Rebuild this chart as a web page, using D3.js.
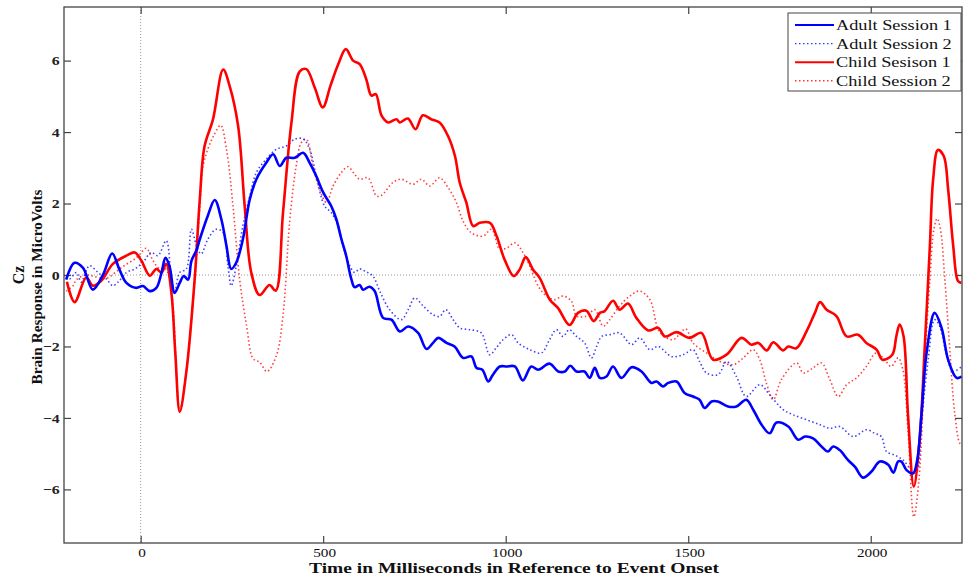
<!DOCTYPE html>
<html><head><meta charset="utf-8">
<script src="https://cdn.jsdelivr.net/npm/d3@7"></script>
<style>body{margin:0;background:#fff}svg{display:block}</style>
</head><body><svg id="c" width="963" height="583"></svg>
<script>
const seriesNames = ["Adult Session 1","Adult Session 2","Child Sesison 1","Child Session 2"];
const seriesColors = ["#0000ff","#0000ff","#ff0000","#ff0000"];
const seriesDotted = [false,true,false,true];
const xTicks = [0,500,1000,1500,2000];
const yTicks = [-6,-4,-2,0,2,4,6];

const adult1T = [-204,-181,-158,-131,-103,-78,-58,-39,-12,6,25,43,57,68,79,93,107,118,130,139,153,162,184,203,221,235,248,262,280,299,317,344,363,381,399,422,445,463,481,500,522,536,550,563,577,586,600,609,627,641,664,687,710,733,760,783,801,815,838,860,883,906,920,936,952,965,984,1002,1025,1047,1070,1089,1120,1144,1162,1177,1194,1216,1230,1244,1258,1276,1294,1317,1345,1372,1399,1413,1431,1445,1468,1490,1513,1531,1545,1564,1581,1609,1632,1659,1678,1701,1723,1742,1774,1801,1820,1842,1865,1883,1897,1915,1938,1957,1979,2002,2025,2048,2062,2075,2084,2098,2116,2127,2139,2153,2175,2194,2212,2235,2249];
const adult1V = [-0.13,0.34,0.2,-0.41,0.01,0.6,0.15,-0.22,-0.36,-0.31,-0.45,-0.36,0.06,0.48,0.25,-0.5,-0.22,-0.03,-0.13,0.39,0.7,1.0,1.66,2.1,1.56,0.82,0.17,0.35,1.0,2.12,2.68,3.14,3.38,3.05,3.28,3.28,3.42,3.14,2.77,2.31,1.93,1.56,1.0,0.54,-0.11,-0.34,-0.28,-0.41,-0.33,-0.45,-1.2,-1.25,-1.58,-1.44,-1.62,-2.07,-1.9,-1.76,-1.9,-2.0,-2.32,-2.28,-2.6,-2.65,-2.98,-2.79,-2.56,-2.56,-2.56,-2.95,-2.56,-2.65,-2.48,-2.7,-2.7,-2.54,-2.7,-2.7,-2.88,-2.6,-2.88,-2.84,-2.56,-2.88,-2.58,-2.7,-3.02,-2.98,-3.12,-3.02,-2.98,-3.3,-3.4,-3.49,-3.72,-3.54,-3.54,-3.68,-3.68,-3.49,-3.77,-4.19,-4.43,-4.13,-4.24,-4.61,-4.52,-4.57,-4.8,-4.94,-4.8,-4.9,-5.18,-5.37,-5.67,-5.5,-5.22,-5.31,-5.53,-5.22,-5.22,-5.46,-5.55,-5.2,-3.9,-2.18,-1.06,-1.48,-2.37,-2.88,-2.84];

const adult2T = [-204,-195,-176,-163,-140,-117,-94,-76,-62,-39,-16,6,29,47,70,84,93,107,125,139,153,166,184,207,226,239,248,262,280,299,317,344,372,399,422,445,463,481,504,522,541,554,573,586,600,614,636,655,682,714,733,751,774,801,819,836,856,874,901,933,956,974,993,1016,1034,1066,1098,1120,1139,1157,1174,1194,1216,1235,1249,1263,1285,1312,1345,1367,1395,1418,1454,1486,1513,1531,1550,1582,1605,1632,1659,1696,1723,1760,1787,1824,1861,1888,1915,1952,1988,2011,2029,2043,2066,2089,2112,2125,2139,2157,2175,2189,2207,2225,2249];
const adult2V = [-0.05,-0.11,0.07,-0.2,0.26,0.07,-0.11,-0.3,-0.2,0.07,0.17,0.35,0.63,0.54,0.96,-0.11,-0.48,0.07,0.17,1.28,0.82,0.59,1.0,1.28,1.19,0.26,-0.3,0.26,1.38,2.21,2.87,3.24,3.52,3.61,3.8,3.81,3.52,2.77,1.93,1.75,1.38,0.82,0.26,0.07,0.17,0.11,-0.03,-0.45,-0.97,-1.25,-0.97,-0.64,-0.87,-1.11,-1.16,-0.97,-1.25,-1.48,-1.53,-1.62,-2.23,-2.04,-1.81,-1.67,-1.9,-2.09,-2.18,-1.81,-1.53,-1.72,-1.53,-1.72,-1.9,-2.32,-2.0,-1.72,-1.67,-1.62,-1.95,-1.76,-2.09,-2.0,-2.28,-2.23,-2.09,-2.42,-2.74,-2.79,-2.42,-2.84,-3.4,-3.07,-3.35,-3.77,-3.91,-4.05,-4.19,-4.29,-4.24,-4.52,-4.33,-4.43,-4.52,-4.94,-5.04,-5.18,-5.46,-5.5,-4.1,-2.4,-1.25,-1.44,-2.2,-2.7,-2.56];

const child1T = [-202,-181,-149,-131,-108,-76,-39,-16,2,25,43,57,70,84,95,107,125,148,162,175,198,226,244,267,285,303,326,353,370,390,413,436,454,477,499,520,541,562,582,600,618,632,644,660,678,701,710,732,753,773,796,819,842,861,874,892,911,929,957,975,997,1022,1038,1055,1075,1093,1121,1143,1175,1198,1221,1241,1258,1271,1294,1312,1335,1358,1390,1418,1436,1468,1504,1536,1568,1605,1646,1673,1692,1715,1733,1760,1774,1796,1824,1847,1861,1879,1906,1934,1965,1988,2016,2032,2059,2070,2079,2090,2102,2118,2134,2148,2162,2171,2184,2200,2212,2226,2239,2248];
const child1V = [-0.19,-0.76,-0.07,-0.3,-0.16,0.31,0.54,0.63,0.4,-0.02,0.17,0.07,0.31,-0.48,-2.2,-3.83,-2.72,-0.11,2.12,3.6,4.35,5.75,5.28,4.17,1.93,0.07,-0.56,-0.28,-0.44,1.75,4.26,5.7,5.76,5.24,4.69,5.3,5.89,6.32,6.0,5.9,5.48,5.02,5.06,4.46,4.27,4.36,4.27,4.38,4.08,4.47,4.36,4.27,3.89,3.33,2.59,2.03,1.37,1.46,1.46,1.09,0.43,-0.03,0.15,0.5,0.15,-0.08,-0.69,-0.92,-1.4,-1.06,-1.0,-1.29,-1.06,-1.01,-0.72,-0.97,-0.8,-1.2,-1.55,-1.48,-1.72,-1.6,-1.76,-1.62,-2.37,-2.23,-1.76,-1.95,-1.9,-2.11,-1.88,-2.11,-2.0,-2.05,-1.58,-1.06,-0.76,-0.97,-1.15,-1.72,-1.67,-1.9,-2.09,-2.37,-2.23,-1.72,-1.39,-1.72,-3.9,-5.92,-4.6,-2.0,0.81,2.68,3.5,3.33,2.4,0.81,-0.17,-0.22];

const child2T = [-204,-185,-176,-150,-131,-100,-85,-60,-39,-16,-3,15,34,52,68,84,107,125,148,162,171,185,200,219,235,253,271,290,308,326,346,372,390,408,426,440,454,472,490,509,527,550,568,586,600,623,646,660,691,714,746,769,792,819,842,865,883,906,938,961,984,1004,1025,1048,1066,1089,1112,1134,1157,1180,1194,1221,1244,1267,1285,1312,1340,1367,1395,1422,1458,1493,1513,1550,1587,1623,1650,1678,1696,1714,1733,1755,1797,1815,1842,1865,1888,1911,1934,1961,1988,2015,2038,2056,2075,2088,2102,2118,2132,2148,2162,2173,2182,2191,2203,2216,2230,2244,2250];
const child2V = [-0.45,-0.3,-0.13,0.0,-0.03,-0.1,-0.05,0.15,0.3,0.45,0.57,0.75,0.4,0.17,0.17,-0.4,-3.74,-2.7,-0.2,1.9,3.05,3.55,3.9,4.19,3.52,1.93,-0.11,-1.41,-2.34,-2.44,-2.7,-2.25,-1.13,1.47,3.05,3.7,3.8,3.05,2.4,2.03,2.49,2.87,3.03,2.82,2.68,2.72,2.21,2.23,2.59,2.68,2.54,2.68,2.49,2.72,2.45,2.03,1.51,1.18,1.09,1.28,0.72,0.76,0.9,0.62,0.25,-0.31,-0.59,-0.69,-0.59,-0.73,-1.15,-1.15,-0.97,-1.43,-1.25,-0.87,-0.59,-0.45,-0.69,-1.6,-1.81,-1.51,-1.9,-2.18,-2.42,-2.51,-2.33,-2.09,-2.37,-3.02,-3.49,-2.93,-2.46,-2.74,-2.6,-2.46,-2.93,-3.4,-3.07,-2.88,-2.56,-2.18,-2.37,-2.56,-2.32,-2.65,-4.33,-6.77,-5.74,-2.46,-0.13,1.28,1.58,1.28,-0.13,-2.0,-3.87,-4.71,-4.75];

const seriesT = [adult1T, adult2T, child1T, child2T];
const seriesV = [adult1V, adult2V, child1V, child2V];

const L = 64, R = 962, T = 7, B = 543;
const svg = d3.select("#c");
const x = d3.scaleLinear().domain([-210, 2250]).range([L, R]);
const y = d3.scaleLinear().domain([-7.5, 7.5]).range([B, T]);
const serif = "'Liberation Serif','Times New Roman',serif";
const SX = 1.22; // horizontal stretch of the reference's lettering

svg.append("defs").append("clipPath").attr("id","clip")
  .append("rect").attr("x",L).attr("y",T).attr("width",R-L).attr("height",B-T);

// zero reference lines
svg.append("line").attr("x1",L).attr("x2",R).attr("y1",y(0)).attr("y2",y(0))
  .attr("stroke","#999").attr("stroke-width",1).attr("stroke-dasharray","1,2");
svg.append("line").attr("x1",x(0)).attr("x2",x(0)).attr("y1",T).attr("y2",B)
  .attr("stroke","#999").attr("stroke-width",1).attr("stroke-dasharray","1,2");

// axes with inward ticks
const axisColor = "#444";
function styleAxis(g){ g.select(".domain").remove(); g.selectAll(".tick line").attr("stroke",axisColor).attr("stroke-width",1.2); }
svg.append("g").attr("transform",`translate(0,${B})`)
  .call(d3.axisBottom(x).tickValues(xTicks).tickFormat(d3.format("d")).tickSizeInner(-7).tickSizeOuter(0).tickPadding(5))
  .call(styleAxis).call(g=>g.selectAll("text").attr("font-family",serif).attr("font-size",12.5).attr("fill","#111")
     .attr("transform",`translate(1,0) scale(${SX},1)`));
svg.append("g").attr("transform",`translate(0,${T})`)
  .call(d3.axisTop(x).tickValues(xTicks).tickSizeInner(-7).tickSizeOuter(0).tickFormat(""))
  .call(styleAxis);
svg.append("g").attr("transform",`translate(${L},0)`)
  .call(d3.axisLeft(y).tickValues(yTicks).tickSizeInner(-7).tickSizeOuter(0).tickPadding(3.5))
  .call(styleAxis).call(g=>g.selectAll("text").attr("font-family",serif).attr("font-size",13).attr("font-weight","bold").attr("fill","#222")
     .attr("transform",`scale(${SX},1)`));
svg.append("g").attr("transform",`translate(${R},0)`)
  .call(d3.axisRight(y).tickValues(yTicks).tickSizeInner(-7).tickSizeOuter(0).tickFormat(""))
  .call(styleAxis);

// lines
const line = d3.line().x(d=>x(d[0])).y(d=>y(d[1])).curve(d3.curveCatmullRom.alpha(0.5));
const order = [3,1,2,0];
order.forEach(i=>{
  const pts = seriesT[i].map((t,k)=>[t, seriesV[i][k]]);
  svg.append("path").datum(pts).attr("clip-path","url(#clip)")
    .attr("d",line).attr("fill","none")
    .attr("stroke",seriesColors[i])
    .attr("stroke-opacity", seriesDotted[i] ? 0.75 : 1)
    .attr("stroke-width",seriesDotted[i]?1.6:2.6)
    .attr("stroke-dasharray",seriesDotted[i]?"1.5,2.5":null)
    .attr("stroke-linejoin","round");
});

// frame
svg.append("rect").attr("x",L).attr("y",T).attr("width",R-L).attr("height",B-T)
  .attr("fill","none").attr("stroke",axisColor).attr("stroke-width",1.3);

// legend
const lg = svg.append("g");
lg.append("rect").attr("x",788).attr("y",13).attr("width",173).attr("height",78)
  .attr("fill","#fff").attr("stroke",axisColor).attr("stroke-width",1);
seriesNames.forEach((n,i)=>{
  const yy = 25 + i*18.6;
  lg.append("line").attr("x1",795).attr("x2",834).attr("y1",yy).attr("y2",yy)
    .attr("stroke",seriesColors[i]).attr("stroke-width",seriesDotted[i]?1.4:2)
    .attr("stroke-opacity", seriesDotted[i] ? 0.8 : 1)
    .attr("stroke-dasharray",seriesDotted[i]?"1.5,2.5":null);
  lg.append("text").attr("transform",`translate(836,${yy+5}) scale(1.18,1)`).text(n)
    .attr("font-family",serif).attr("font-size",15.5).attr("fill","#111");
});

// axis titles
svg.append("text").attr("transform",`translate(514,573) scale(1.3,1)`).attr("text-anchor","middle")
  .attr("font-family",serif).attr("font-weight","bold").attr("font-size",15).attr("fill","#111")
  .text("Time in Milliseconds in Reference to Event Onset");
const yl = svg.append("text").attr("transform",`translate(0,${y(0)}) rotate(-90)`)
  .attr("text-anchor","middle").attr("font-family",serif).attr("font-weight","bold").attr("fill","#111");
yl.append("tspan").attr("x",0).attr("y",24).attr("font-size",16).text("Cz");
yl.append("tspan").attr("x",-12).attr("y",42).attr("font-size",15.3).text("Brain Response in MicroVolts");
</script></body></html>
